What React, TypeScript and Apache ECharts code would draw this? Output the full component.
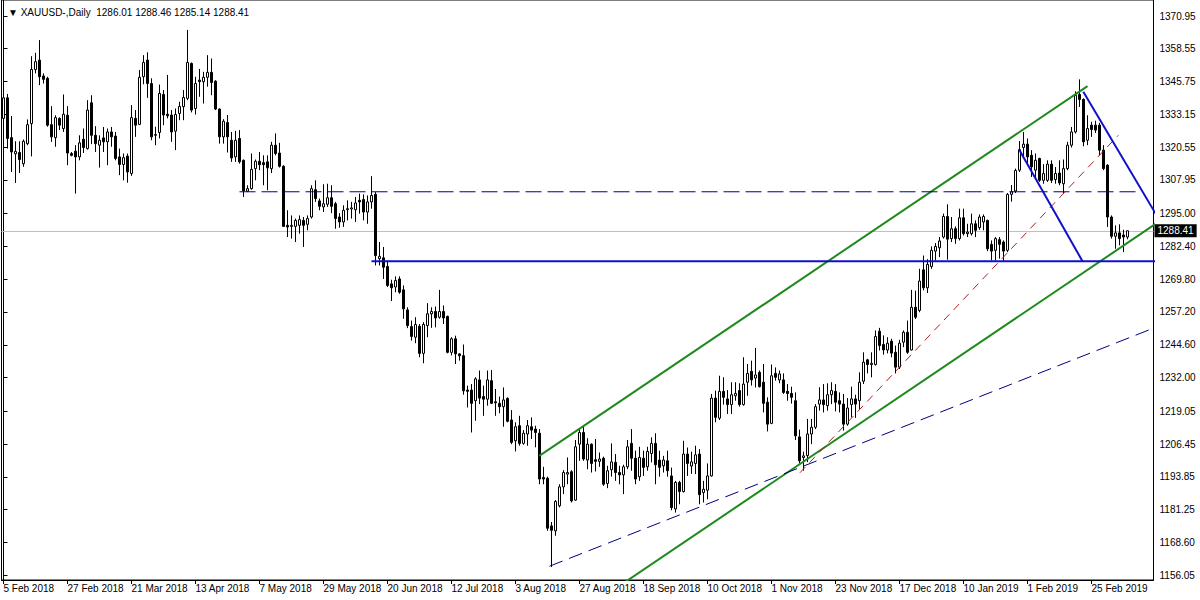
import React, { useEffect, useRef } from "react";
import * as echarts from "echarts";

// ---------- data ----------
const startDate = "2018-02-05";
const holidays = ["2018-03-30", "2018-12-25", "2019-01-01"];
const totalSlots = 288; // trading-day slots on the x axis (incl. empty right margin)
const MONTHS = ["Jan", "Feb", "Mar", "Apr", "May", "Jun", "Jul", "Aug", "Sep", "Oct", "Nov", "Dec"];

// daily bars: [open, high, low, close]
const ohlc: number[][] = [
  [1331.6, 1341.8, 1328.6, 1339.5], [1339.5, 1341.0, 1320.0, 1323.9], [1324.2, 1332.5, 1311.0, 1318.7], [1318.0, 1322.8, 1306.8, 1318.9],
  [1318.5, 1322.8, 1310.6, 1315.8], [1314.2, 1323.5, 1313.0, 1322.8], [1321.9, 1331.2, 1321.3, 1329.2], [1329.6, 1355.5, 1317.0, 1350.4],
  [1350.4, 1356.8, 1348.9, 1353.4], [1354.0, 1361.7, 1344.4, 1347.6], [1347.9, 1348.9, 1345.0, 1346.6], [1347.0, 1347.6, 1328.4, 1329.0],
  [1329.2, 1336.3, 1322.6, 1324.5], [1324.2, 1332.8, 1320.7, 1331.9], [1331.6, 1332.0, 1327.1, 1329.0], [1327.7, 1340.8, 1326.4, 1333.2],
  [1332.8, 1336.3, 1313.6, 1318.3], [1318.1, 1318.7, 1317.0, 1317.4], [1319.0, 1321.3, 1302.7, 1316.8], [1316.8, 1325.1, 1315.5, 1322.2],
  [1323.6, 1327.7, 1318.3, 1320.4], [1320.0, 1338.6, 1319.6, 1334.8], [1337.6, 1340.5, 1321.7, 1325.1], [1325.1, 1328.6, 1318.7, 1321.9],
  [1321.3, 1325.1, 1312.7, 1323.2], [1324.1, 1328.3, 1318.7, 1322.6], [1322.6, 1327.7, 1313.6, 1326.4], [1326.4, 1328.3, 1320.7, 1324.5],
  [1324.8, 1326.4, 1315.5, 1316.2], [1316.8, 1320.0, 1309.8, 1313.9], [1313.9, 1318.1, 1307.8, 1316.5], [1317.1, 1318.1, 1306.9, 1311.0],
  [1310.4, 1336.7, 1309.5, 1331.9], [1331.6, 1334.8, 1324.5, 1329.0], [1329.3, 1350.2, 1329.0, 1347.4], [1347.6, 1355.9, 1344.7, 1353.1],
  [1354.0, 1357.0, 1339.5, 1345.0], [1345.0, 1347.0, 1323.2, 1324.5], [1325.1, 1328.4, 1321.3, 1325.4], [1326.2, 1344.6, 1323.9, 1341.2],
  [1340.8, 1342.5, 1329.0, 1332.9], [1333.2, 1348.3, 1331.6, 1332.6], [1332.9, 1334.8, 1322.6, 1326.4], [1326.7, 1335.4, 1319.4, 1333.1],
  [1333.5, 1338.0, 1330.9, 1336.2], [1336.1, 1342.5, 1330.9, 1339.6], [1339.3, 1365.6, 1338.6, 1353.1], [1352.7, 1353.1, 1333.9, 1334.8],
  [1335.4, 1347.6, 1333.1, 1345.0], [1346.3, 1350.6, 1339.9, 1345.7], [1345.7, 1349.5, 1337.3, 1347.4], [1347.4, 1355.9, 1343.8, 1349.3],
  [1349.3, 1354.6, 1340.5, 1345.4], [1345.9, 1346.3, 1334.8, 1335.2], [1335.2, 1335.4, 1321.9, 1324.5], [1324.5, 1331.3, 1321.9, 1330.5],
  [1330.0, 1332.9, 1318.5, 1324.5], [1323.2, 1326.4, 1314.9, 1316.4], [1316.8, 1326.8, 1314.9, 1323.2], [1323.9, 1327.1, 1314.2, 1314.9],
  [1315.5, 1315.8, 1301.4, 1303.7], [1303.6, 1305.9, 1303.3, 1304.6], [1304.6, 1318.1, 1304.2, 1312.0], [1312.3, 1315.8, 1307.8, 1315.1],
  [1315.1, 1318.7, 1311.7, 1313.8], [1314.6, 1317.4, 1305.9, 1313.8], [1314.9, 1317.4, 1304.0, 1312.6], [1312.3, 1322.6, 1310.6, 1321.3],
  [1321.3, 1325.8, 1317.4, 1318.1], [1318.3, 1322.2, 1312.7, 1313.2], [1313.2, 1313.6, 1289.9, 1290.1], [1290.5, 1296.3, 1286.0, 1289.9],
  [1290.1, 1294.3, 1285.4, 1290.5], [1290.1, 1293.1, 1284.1, 1292.4], [1290.5, 1294.3, 1287.3, 1292.7], [1292.4, 1293.7, 1282.2, 1290.5],
  [1290.9, 1294.3, 1288.6, 1293.1], [1293.7, 1305.9, 1293.1, 1304.6], [1304.2, 1307.8, 1299.5, 1300.8], [1299.9, 1300.8, 1296.3, 1297.8],
  [1297.6, 1306.3, 1295.6, 1298.8], [1298.6, 1306.5, 1297.6, 1301.1], [1301.1, 1305.9, 1295.2, 1297.8], [1298.8, 1299.5, 1289.2, 1293.1],
  [1293.7, 1295.2, 1289.6, 1291.8], [1291.8, 1298.2, 1289.9, 1296.3], [1296.5, 1300.1, 1292.4, 1296.9], [1296.8, 1299.5, 1293.1, 1297.2],
  [1296.5, 1301.4, 1291.8, 1299.1], [1300.1, 1302.7, 1295.0, 1299.5], [1300.4, 1302.4, 1292.4, 1295.6], [1295.6, 1302.0, 1291.1, 1299.5],
  [1299.5, 1309.4, 1296.9, 1302.0], [1302.4, 1303.3, 1275.1, 1278.9], [1277.7, 1284.1, 1275.1, 1278.6], [1278.0, 1282.2, 1269.9, 1274.4],
  [1274.7, 1277.0, 1266.8, 1267.4], [1268.0, 1269.6, 1261.4, 1266.5], [1266.8, 1270.9, 1264.8, 1269.3], [1269.9, 1270.9, 1264.2, 1264.8],
  [1265.7, 1267.4, 1254.6, 1258.4], [1258.0, 1259.0, 1251.0, 1252.0], [1251.6, 1253.9, 1246.2, 1247.8], [1247.5, 1255.2, 1245.2, 1252.4],
  [1251.7, 1252.6, 1239.8, 1241.3], [1241.3, 1253.3, 1237.5, 1252.4], [1252.0, 1260.6, 1247.5, 1256.5], [1256.5, 1259.0, 1251.1, 1257.4],
  [1257.4, 1259.3, 1251.3, 1254.9], [1255.2, 1265.7, 1254.6, 1257.4], [1257.4, 1259.7, 1252.6, 1254.9], [1255.5, 1255.8, 1241.3, 1241.7],
  [1241.7, 1247.5, 1240.5, 1246.9], [1246.9, 1248.1, 1237.2, 1241.1], [1241.1, 1241.3, 1238.5, 1240.4], [1240.4, 1244.7, 1225.4, 1226.9],
  [1227.2, 1228.9, 1220.5, 1226.7], [1227.2, 1229.5, 1210.9, 1222.1], [1223.1, 1232.1, 1215.4, 1231.5], [1231.1, 1234.7, 1221.8, 1224.1],
  [1224.7, 1228.9, 1217.3, 1223.7], [1223.7, 1234.7, 1221.2, 1231.1], [1230.8, 1234.9, 1221.8, 1222.1], [1222.7, 1227.6, 1217.3, 1222.3],
  [1222.1, 1224.7, 1218.3, 1220.8], [1220.8, 1228.2, 1213.1, 1223.4], [1224.0, 1224.4, 1214.8, 1215.2], [1215.7, 1219.5, 1206.4, 1207.1],
  [1207.7, 1214.8, 1203.6, 1213.1], [1213.5, 1217.3, 1205.8, 1206.7], [1206.7, 1211.8, 1206.2, 1210.6], [1210.3, 1215.7, 1205.8, 1213.5],
  [1213.1, 1216.7, 1208.4, 1211.8], [1212.2, 1213.5, 1205.2, 1210.9], [1210.6, 1212.2, 1191.0, 1193.0], [1193.6, 1197.7, 1191.0, 1193.0],
  [1193.3, 1193.9, 1173.1, 1174.1], [1175.0, 1176.5, 1159.2, 1173.3], [1173.1, 1184.9, 1171.2, 1184.4], [1182.7, 1191.0, 1182.1, 1190.0],
  [1190.0, 1196.4, 1187.2, 1195.5], [1194.9, 1201.3, 1191.0, 1195.5], [1195.8, 1196.4, 1184.0, 1184.6], [1184.9, 1208.0, 1184.6, 1205.4],
  [1206.4, 1212.2, 1200.0, 1210.9], [1210.9, 1213.5, 1200.0, 1200.7], [1200.3, 1208.7, 1196.8, 1206.4], [1206.4, 1206.7, 1195.5, 1199.0],
  [1200.4, 1208.4, 1195.9, 1199.8], [1199.8, 1203.2, 1197.7, 1200.7], [1201.0, 1201.6, 1190.4, 1191.0], [1191.3, 1198.1, 1189.5, 1196.2],
  [1196.6, 1206.7, 1193.9, 1199.6], [1199.4, 1202.6, 1192.3, 1195.5], [1195.5, 1198.1, 1191.0, 1194.6], [1194.6, 1198.5, 1187.2, 1197.7],
  [1197.7, 1208.0, 1196.8, 1205.4], [1206.7, 1212.2, 1196.2, 1201.0], [1201.0, 1203.9, 1191.0, 1193.0], [1193.9, 1205.4, 1192.3, 1201.3],
  [1201.0, 1203.9, 1194.2, 1197.5], [1197.7, 1205.4, 1196.2, 1203.6], [1202.8, 1209.0, 1199.4, 1206.7], [1206.7, 1210.6, 1191.0, 1198.5],
  [1200.3, 1203.9, 1193.9, 1197.5], [1198.1, 1201.9, 1195.5, 1200.3], [1200.0, 1203.9, 1193.9, 1196.2], [1194.2, 1197.4, 1181.0, 1182.0],
  [1181.5, 1192.3, 1180.1, 1191.7], [1191.7, 1192.3, 1183.3, 1188.2], [1188.2, 1207.7, 1187.8, 1202.6], [1202.6, 1205.1, 1194.2, 1199.0],
  [1198.0, 1203.5, 1195.0, 1199.6], [1199.0, 1205.8, 1194.9, 1202.3], [1202.6, 1204.5, 1183.3, 1187.0], [1187.8, 1192.3, 1184.0, 1189.1],
  [1188.7, 1199.0, 1185.2, 1194.2], [1194.2, 1225.7, 1193.9, 1224.1], [1224.1, 1227.0, 1214.8, 1216.7], [1216.4, 1232.7, 1215.7, 1226.7],
  [1226.7, 1232.1, 1221.6, 1224.4], [1223.8, 1227.2, 1218.0, 1221.6], [1221.6, 1230.2, 1218.0, 1225.4], [1225.0, 1230.2, 1223.1, 1225.9],
  [1227.0, 1229.8, 1220.8, 1221.6], [1221.6, 1239.8, 1221.2, 1229.5], [1230.2, 1237.2, 1225.0, 1233.6], [1234.4, 1238.5, 1228.9, 1231.1],
  [1231.8, 1243.4, 1228.2, 1233.0], [1234.0, 1234.7, 1228.2, 1228.5], [1230.2, 1237.2, 1218.6, 1222.1], [1222.5, 1224.4, 1211.3, 1214.1],
  [1214.4, 1237.0, 1214.1, 1232.7], [1233.6, 1235.9, 1230.8, 1232.1], [1231.1, 1234.7, 1229.8, 1233.4], [1231.1, 1233.6, 1225.7, 1226.3],
  [1226.7, 1229.5, 1223.1, 1225.9], [1225.9, 1228.5, 1222.0, 1224.4], [1223.1, 1226.3, 1208.0, 1209.6], [1209.2, 1212.0, 1199.0, 1200.0],
  [1201.3, 1203.5, 1196.2, 1201.9], [1202.0, 1216.1, 1199.5, 1210.3], [1210.3, 1216.1, 1206.4, 1212.9], [1212.9, 1221.8, 1212.2, 1220.8],
  [1221.8, 1228.3, 1219.3, 1223.4], [1223.4, 1229.5, 1218.6, 1221.6], [1221.2, 1229.8, 1219.3, 1225.4], [1225.4, 1230.2, 1221.8, 1227.0],
  [1226.7, 1229.5, 1219.0, 1222.5], [1223.1, 1226.3, 1218.6, 1221.8], [1221.8, 1225.7, 1211.6, 1214.1], [1214.1, 1224.1, 1213.5, 1220.3],
  [1221.6, 1228.5, 1216.7, 1223.8], [1223.8, 1225.4, 1216.5, 1221.8], [1223.1, 1234.0, 1219.9, 1230.2], [1230.6, 1241.7, 1229.5, 1237.9],
  [1238.8, 1239.2, 1233.6, 1237.0], [1237.0, 1241.7, 1232.1, 1237.5], [1237.0, 1250.1, 1236.6, 1247.8], [1249.8, 1251.1, 1242.4, 1244.3],
  [1244.7, 1248.2, 1240.8, 1242.6], [1242.6, 1247.5, 1241.3, 1245.2], [1246.0, 1246.9, 1239.8, 1241.4], [1241.7, 1244.3, 1233.6, 1236.0],
  [1236.0, 1246.5, 1235.3, 1245.2], [1245.6, 1250.1, 1243.7, 1249.4], [1249.4, 1253.9, 1241.1, 1241.7], [1242.6, 1265.7, 1242.4, 1259.0],
  [1259.0, 1265.4, 1254.5, 1255.2], [1257.8, 1273.8, 1257.1, 1269.1], [1273.4, 1278.9, 1265.5, 1266.5], [1266.5, 1277.5, 1264.5, 1275.5],
  [1274.7, 1282.4, 1273.8, 1280.9], [1280.6, 1283.7, 1277.0, 1282.4], [1281.9, 1286.0, 1278.3, 1284.5], [1286.0, 1295.0, 1285.4, 1293.9],
  [1293.9, 1298.6, 1277.3, 1285.2], [1285.4, 1293.7, 1284.1, 1289.2], [1289.2, 1290.1, 1283.4, 1285.4], [1285.4, 1296.9, 1284.7, 1293.4],
  [1293.4, 1296.9, 1286.6, 1287.3], [1287.3, 1291.1, 1286.0, 1287.9], [1287.3, 1295.0, 1286.6, 1291.1], [1291.1, 1292.4, 1286.0, 1288.6],
  [1289.6, 1294.7, 1288.8, 1293.7], [1291.8, 1294.7, 1288.6, 1293.9], [1292.4, 1292.7, 1280.6, 1281.5], [1283.2, 1284.7, 1277.0, 1280.6],
  [1280.9, 1286.0, 1277.0, 1285.4], [1285.0, 1286.0, 1277.7, 1283.2], [1284.1, 1284.7, 1276.8, 1280.6], [1280.9, 1302.9, 1280.2, 1302.4],
  [1302.4, 1306.0, 1299.6, 1303.4], [1303.7, 1312.3, 1302.9, 1311.6], [1311.7, 1322.9, 1311.0, 1319.6], [1320.4, 1326.4, 1316.8, 1321.7],
  [1321.7, 1323.9, 1314.0, 1316.8], [1317.4, 1319.4, 1309.1, 1313.0], [1311.7, 1318.1, 1308.5, 1315.5], [1316.2, 1316.5, 1307.2, 1307.8],
  [1307.8, 1314.0, 1306.5, 1310.4], [1307.8, 1315.5, 1307.2, 1314.0], [1314.0, 1315.5, 1306.8, 1307.8], [1308.1, 1312.9, 1306.5, 1310.4],
  [1310.6, 1315.5, 1305.9, 1306.8], [1306.5, 1315.8, 1302.7, 1312.3], [1312.3, 1322.6, 1311.7, 1321.3], [1321.3, 1328.3, 1320.4, 1326.4],
  [1326.4, 1342.0, 1325.8, 1340.5], [1340.8, 1346.6, 1336.0, 1338.9], [1338.9, 1339.3, 1320.9, 1322.6], [1323.2, 1332.8, 1321.3, 1327.7],
  [1329.0, 1330.3, 1324.5, 1327.3], [1329.0, 1330.7, 1326.0, 1327.1], [1329.0, 1329.9, 1317.4, 1319.4], [1319.4, 1321.3, 1311.7, 1312.3],
  [1313.6, 1314.0, 1289.9, 1293.7], [1293.7, 1294.3, 1285.4, 1286.3], [1286.3, 1290.5, 1281.5, 1287.6], [1287.6, 1290.9, 1282.8, 1285.4],
  [1286.8, 1288.8, 1280.2, 1286.0], [1286.01, 1288.46, 1285.14, 1288.41],
];

const yTickLabels = [
  1156.05, 1168.6, 1181.25, 1193.85, 1206.45, 1219.05, 1232.0, 1244.6, 1257.2,
  1269.8, 1282.4, 1295.0, 1307.95, 1320.55, 1333.15, 1345.75, 1358.55, 1370.95,
];
const yMin = 1154.2;
const yMax = 1377.1;

const symbolName = "XAUUSD-,Daily";
const lastBar = ohlc[ohlc.length - 1];
const lastPrice = lastBar[3];

// drawn objects: [bar index, price]
const channelUpper = [[133.95, 1201.9], [271, 1344.0]];
const channelLower = [[150, 1147.8], [290, 1293.1]];
const supportLine = [[92, 1276.7], [290, 1276.7]];
const resistanceDashed = [[59, 1303.4], [283, 1303.4]];
const risingDashed = [[136.5, 1159.5], [290, 1252.5]];
const redTrend = [[199.1, 1195.4], [278.7, 1325.1]];
const wedgeLeft = [[253.9, 1319.6], [269.75, 1276.7]];
const wedgeRight = [[269.95, 1341.8], [290, 1289.9]];

function buildDates(): string[] {
  const out: string[] = [];
  const [y, m, d] = startDate.split("-").map(Number);
  const dt = new Date(Date.UTC(y, m - 1, d));
  while (out.length < totalSlots) {
    const dow = dt.getUTCDay();
    const iso = dt.toISOString().slice(0, 10);
    if (dow !== 0 && dow !== 6 && !holidays.includes(iso)) {
      out.push(`${dt.getUTCDate()} ${MONTHS[dt.getUTCMonth()]} ${dt.getUTCFullYear()}`);
    }
    dt.setUTCDate(dt.getUTCDate() + 1);
  }
  return out;
}

const FONT = "'Liberation Sans', Arial, sans-serif";

function lineSeries(data: number[][], color: string, width: number, type: any) {
  return {
    type: "line",
    xAxisIndex: 1,
    yAxisIndex: 0,
    data,
    symbol: "none",
    showSymbol: false,
    silent: true,
    clip: true,
    z: 5,
    lineStyle: { color, width, type },
  };
}

export default function App() {
  const ref = useRef<HTMLDivElement>(null);

  useEffect(() => {
    if (!ref.current) return;
    document.body.style.margin = "0";
    const chart = echarts.init(ref.current, undefined, { renderer: "svg" });
    const dates = buildDates();

    chart.setOption({
      animation: false,
      backgroundColor: "#ffffff",
      title: {
        text: "\u25BC " + symbolName + "  " + lastBar.map((v) => v.toFixed(2)).join(" "),
        left: 3,
        top: 2,
        textStyle: { fontSize: 10, fontWeight: "normal", fontFamily: FONT, color: "#000" },
      },
      grid: {
        left: 1.5,
        right: 46.5,
        top: 0,
        bottom: 20,
        show: true,
        borderColor: "#000",
        borderWidth: 1,
      },
      xAxis: [
        {
          type: "category",
          data: dates,
          boundaryGap: true,
          axisLine: { show: true, lineStyle: { color: "#000", width: 1 } },
          axisTick: { show: true, interval: 15, alignWithLabel: true, length: 4, lineStyle: { color: "#000" } },
          axisLabel: {
            interval: 15,
            align: "left",
            margin: 3,
            fontSize: 10,
            fontFamily: FONT,
            color: "#000",
          },
          splitLine: { show: false },
        },
        { type: "value", min: -0.5, max: totalSlots - 0.5, show: false },
      ],
      yAxis: {
        type: "value",
        position: "right",
        min: yMin,
        max: yMax,
        axisLine: { show: true, lineStyle: { color: "#000", width: 1 } },
        axisTick: { show: true, customValues: yTickLabels, length: 4, lineStyle: { color: "#000" } },
        axisLabel: {
          customValues: yTickLabels,
          formatter: (v: number) => v.toFixed(2),
          fontSize: 10,
          fontFamily: FONT,
          color: "#000",
          margin: 6,
        },
        splitLine: { show: false },
      },
      series: [
        {
          type: "candlestick",
          xAxisIndex: 0,
          yAxisIndex: 0,
          barWidth: 2,
          z: 3,
          data: ohlc.map(([o, h, l, c]) => [o, c, l, h]),
          itemStyle: {
            color: "#ffffff",
            color0: "#000000",
            borderColor: "#000000",
            borderColor0: "#000000",
            borderColorDoji: "#000000",
            borderWidth: 1,
          },
          markLine: {
            symbol: "none",
            silent: true,
            z: 1,
            data: [{ yAxis: lastPrice }],
            lineStyle: { color: "#c0c0c0", width: 1, type: "solid" },
            label: {
              show: true,
              position: "end",
              distance: 1,
              formatter: lastPrice.toFixed(2),
              backgroundColor: "#000",
              color: "#fff",
              padding: [2, 3, 1, 3],
              fontSize: 10,
              fontFamily: FONT,
            },
          },
        },
        lineSeries(channelUpper, "#1e8a1e", 2, "solid"),
        lineSeries(channelLower, "#1e8a1e", 2, "solid"),
        lineSeries(supportLine, "#1010c8", 2, "solid"),
        lineSeries(resistanceDashed, "#000080", 1, [16, 6]),
        lineSeries(risingDashed, "#000080", 1, [14, 7]),
        lineSeries(redTrend, "#b02020", 1, [8, 6]),
        lineSeries(wedgeLeft, "#1010c8", 2, "solid"),
        lineSeries(wedgeRight, "#1010c8", 2, "solid"),
      ],
    });

    return () => chart.dispose();
  }, []);

  return <div ref={ref} style={{ position: "fixed", left: 0, top: 0, width: 1200, height: 600 }} />;
}
